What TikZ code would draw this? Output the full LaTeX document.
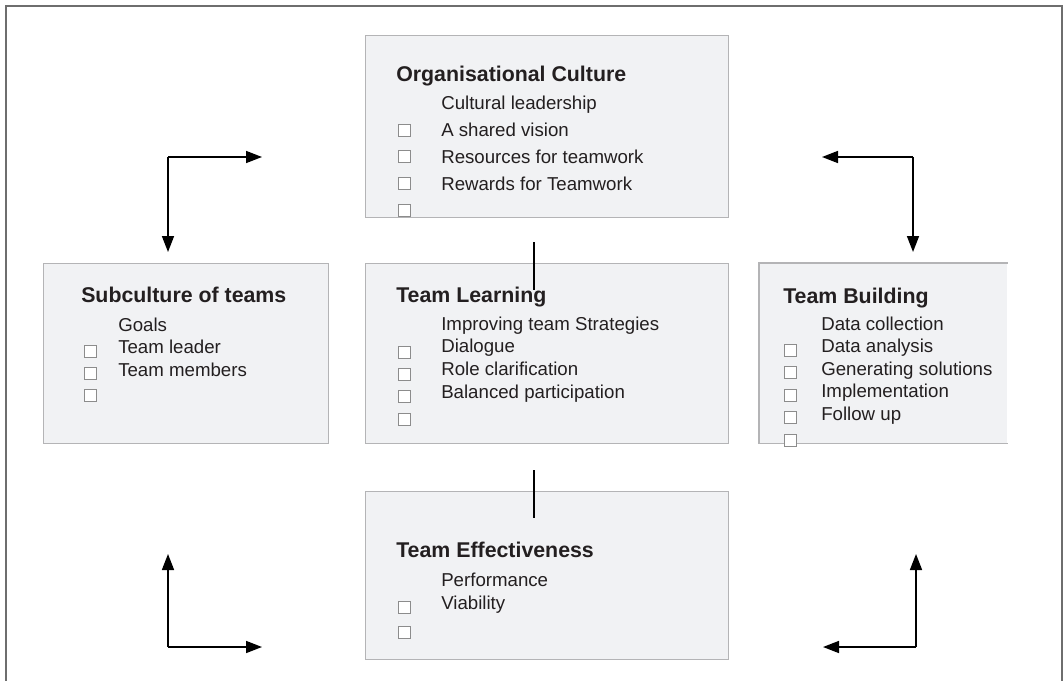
\documentclass[tikz,border=0pt]{standalone}
\usepackage{fontspec}
\setmainfont{Liberation Sans}
\usepackage{tikz}
\usetikzlibrary{arrows.meta}
\usetikzlibrary{positioning}
\definecolor{panelfill}{HTML}{F1F2F4}
\definecolor{panelrule}{HTML}{B4B4B6}
\definecolor{framerule}{HTML}{6E6E6E}
\definecolor{inkdark}{HTML}{231F20}
\definecolor{boxrule}{HTML}{8C8C8C}
\tikzset{
    panel/.style={rectangle, fill=panelfill, draw=panelrule, line width=1pt,
        anchor=north west, inner sep=0pt},
    panelbare/.style={rectangle, fill=panelfill, anchor=north west, inner sep=0pt},
    panelside/.style={draw=panelrule, line width=1pt},
    heading/.style={anchor=base west, inner sep=0pt, text=inkdark,
        font=\fontsize{16}{19}\selectfont\bfseries},
    item/.style={anchor=base west, inner sep=0pt, text=inkdark,
        font=\fontsize{14}{17}\selectfont},
    tickbox/.style={rectangle, draw=boxrule, line width=0.6pt, fill=white,
        minimum size=9pt, inner sep=0pt},
    flow/.style={draw=black, line width=1.2pt, -{Triangle[length=12pt,width=9pt]}},
    link/.style={draw=black, line width=0.8pt},
    frame/.style={draw=framerule, line width=1pt},
}
\begin{document}
\begin{tikzpicture}[x=0.75pt, y=-0.75pt]
	\useasboundingbox (0,0) rectangle (1063,681);
	\draw[frame] (6,681) -- (6,6) -- (1062,6) -- (1062,681);
	% panels
	\node[panel, minimum width=363*0.75pt, minimum height=182*0.75pt] (oc) at (365,35) {};
	\node[panel, minimum width=363*0.75pt, minimum height=180*0.75pt] (tl) at (365,263) {};
	\node[panel, minimum width=363*0.75pt, minimum height=168*0.75pt] (te) at (365,491) {};
	\node[panel, minimum width=285*0.75pt, minimum height=180*0.75pt] (st) at (43,263) {};
	\node[panelbare, minimum width=248*0.75pt, minimum height=180*0.75pt] (tb) at (759,263) {};
	\draw[panelside] (tb.north east) -- (tb.north west) -- (tb.south west) -- (tb.south east);
	% Organisational Culture
	\node[heading] (ochead) at (396,82) {Organisational Culture};
	\foreach \txt [count=\i] in {Cultural leadership, A shared vision,
	    Resources for teamwork, Rewards for Teamwork}
		\node[item] (octxt\i) at (441,{110+26.7*(\i-1)}) {\txt};
	\foreach \i in {1,...,4}
		\node[tickbox] (ocbox\i) at (404,{130+26.7*(\i-1)}) {};
	% Team Learning
	\node[heading] (tlhead) at (396,302) {Team Learning};
	\foreach \txt [count=\i] in {Improving team Strategies, Dialogue,
	    Role clarification, Balanced participation}
		\node[item] (tltxt\i) at (441,{330+22.7*(\i-1)}) {\txt};
	\foreach \i in {1,...,4}
		\node[tickbox] (tlbox\i) at (404,{352+22.4*(\i-1)}) {};
	% Subculture of teams
	\node[heading] (sthead) at (81,302) {Subculture of teams};
	\foreach \txt [count=\i] in {Goals, Team leader, Team members}
		\node[item] (sttxt\i) at (118,{331+22.5*(\i-1)}) {\txt};
	\foreach \i in {1,...,3}
		\node[tickbox] (stbox\i) at (90,{351+22*(\i-1)}) {};
	% Team Building
	\node[heading] (tbhead) at (783,303) {Team Building};
	\foreach \txt [count=\i] in {Data collection, Data analysis,
	    Generating solutions, Implementation, Follow up}
		\node[item] (tbtxt\i) at (821,{330+22.5*(\i-1)}) {\txt};
	\foreach \i in {1,...,5}
		\node[tickbox] (tbbox\i) at (790,{350+22.5*(\i-1)}) {};
	% Team Effectiveness
	\node[heading] (tehead) at (396,557) {Team Effectiveness};
	\foreach \txt [count=\i] in {Performance, Viability}
		\node[item] (tetxt\i) at (441,{586+23*(\i-1)}) {\txt};
	\foreach \i in {1,2}
		\node[tickbox] (tebox\i) at (404,{607+25*(\i-1)}) {};
	% links between the middle panels
	\coordinate (uplinka) at (534,242);
	\coordinate (uplinkb) at (534,290);
	\coordinate (lowlinka) at (534,470);
	\coordinate (lowlinkb) at (534,518);
	\draw[link] (uplinka) -- (uplinkb);
	\draw[link] (lowlinka) -- (lowlinkb);
	% corner arrows
	\coordinate (nwc) at (168,157);
	\coordinate (nwe) at (262,157);
	\coordinate (nws) at (168,252);
	\coordinate (nec) at (913,157);
	\coordinate (new) at (822,157);
	\coordinate (nes) at (913,252);
	\coordinate (swc) at (168,647);
	\coordinate (swe) at (262,647);
	\coordinate (swn) at (168,554);
	\coordinate (sec) at (916,647);
	\coordinate (sew) at (823,647);
	\coordinate (sen) at (916,554);
	\draw[flow] (nwc) -- (nwe);
	\draw[flow] (nwc) -- (nws);
	\draw[flow] (nec) -- (new);
	\draw[flow] (nec) -- (nes);
	\draw[flow] (swc) -- (swe);
	\draw[flow] (swc) -- (swn);
	\draw[flow] (sec) -- (sew);
	\draw[flow] (sec) -- (sen);
\end{tikzpicture}
\end{document}
